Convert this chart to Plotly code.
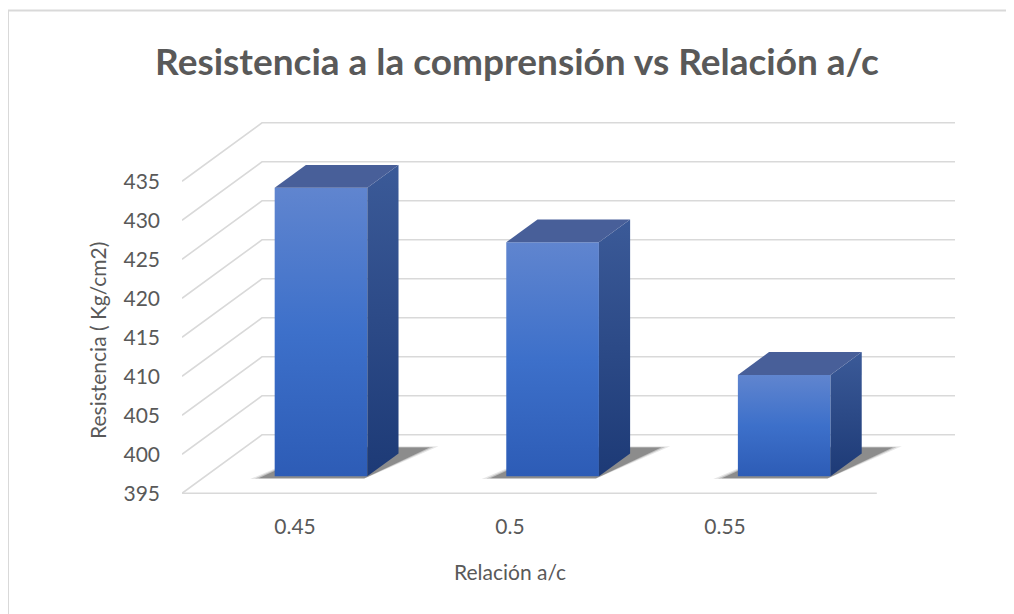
import plotly.graph_objects as go

# Data
categories = ["0.45", "0.5", "0.55"]
resistencia = [432, 425, 408]
y_ticks = [395, 400, 405, 410, 415, 420, 425, 430, 435]

title_text = "Resistencia a la comprensión vs Relación a/c"
x_title = "Relación a/c"
y_title = "Resistencia ( Kg/cm2)"

# page body has an 8px margin, so work in figure pixels = page pixels - 8
OFF = 8
W, H = 1014 - OFF, 614 - OFF

# Geometry of the fake 3D box (pixels -> data units)
L_PX, R_PX, T_PX, B_PX = 182 - OFF, 955 - OFF, 120 - OFF, 500 - OFF
FLOOR_PX = 493.3 - OFF  # front floor line (value 395)
PX_X = 231.6  # px per category
PX_Y = 7.8  # px per value unit
DEPTH_PX = (80, -58.5)
DX = DEPTH_PX[0] / PX_X
DY = -DEPTH_PX[1] / PX_Y
BASE = y_ticks[0]
F1, F2 = 0.29, 0.68  # bar front/back planes inside depth
HALF_W = 0.2

y_range = [BASE - (B_PX - FLOOR_PX) / PX_Y, BASE + (FLOOR_PX - T_PX) / PX_Y]

GRID = "#d9d9d9"
TEXT = "#595959"
FONT = "Lato"


def P(x, d, v):
    """Point at category x, depth fraction d, value v"""
    return x + d * DX, v + d * DY


def poly(pts):
    xs = [p[0] for p in pts] + [pts[0][0]]
    ys = [p[1] for p in pts] + [pts[0][1]]
    return xs, ys


fig = go.Figure()

# Gridlines: side wall diagonals + back wall lines
gx, gy = [], []
n = len(categories)
for v in y_ticks:
    for p in [P(-0.5, 0, v), P(-0.5, 1, v), P(n - 0.5, 1, v)]:
        gx.append(p[0])
        gy.append(p[1])
    gx.append(None)
    gy.append(None)
gx += [-0.5, n - 0.5]
gy += [BASE, BASE]
fig.add_trace(
    go.Scatter(
        x=gx, y=gy, mode="lines", line=dict(color=GRID, width=1.6),
        hoverinfo="skip", showlegend=False,
    )
)

# Bars
for i, v in enumerate(resistencia):
    left, right = i - HALF_W, i + HALF_W

    # soft shadow on the floor
    for grow, op in [(0.04, 0.1), (0.022, 0.18), (0.008, 0.3)]:
        sx, sy = poly([
            P(left - 0.05 - grow, F1 - 0.03 - grow * 0.4, BASE),
            P(right, F1 - 0.03 - grow * 0.4, BASE),
            P(right + 0.09 + grow, F2 + 0.1 + grow * 0.6, BASE),
            P(left + 0.05, F2 + 0.1 + grow * 0.6, BASE),
        ])
        fig.add_trace(
            go.Scatter(
                x=sx, y=sy, fill="toself", mode="lines",
                fillcolor=f"rgba(20,20,20,{op})", line=dict(width=0),
                hoverinfo="skip", showlegend=False,
            )
        )

    bot = P(left, F1, BASE)[1]
    top = P(left, F1, v)[1]

    # front face
    fx, fy = poly([P(left, F1, BASE), P(right, F1, BASE), P(right, F1, v), P(left, F1, v)])
    fig.add_trace(
        go.Scatter(
            x=fx, y=fy, fill="toself", mode="lines", line=dict(width=0),
            fillgradient=dict(
                type="vertical", start=bot, stop=top,
                colorscale=[[0, "#2d5cb6"], [0.5, "#3d70ca"], [1, "#6085cf"]],
            ),
            name=categories[i], hovertemplate=f"{categories[i]}: {v}<extra></extra>",
            showlegend=False,
        )
    )

    # side face
    sx, sy = poly([P(right, F1, BASE), P(right, F2, BASE), P(right, F2, v), P(right, F1, v)])
    fig.add_trace(
        go.Scatter(
            x=sx, y=sy, fill="toself", mode="lines", line=dict(width=0),
            fillgradient=dict(
                type="vertical", start=bot, stop=P(right, F2, v)[1],
                colorscale=[[0, "#1d3a76"], [1, "#3b5a98"]],
            ),
            hoverinfo="skip", showlegend=False,
        )
    )

    # top face
    tx, ty = poly([P(left, F1, v), P(right, F1, v), P(right, F2, v), P(left, F2, v)])
    fig.add_trace(
        go.Scatter(
            x=tx, y=ty, fill="toself", mode="lines", line=dict(width=0),
            fillcolor="#485f99", hoverinfo="skip", showlegend=False,
        )
    )

# invisible trace on the label axis so it is drawn
fig.add_trace(
    go.Scatter(x=[0], y=[BASE], xaxis="x2", mode="markers",
               marker=dict(opacity=0), hoverinfo="skip", showlegend=False)
)

plot_w = R_PX - L_PX
plot_h = B_PX - T_PX
LBL0, LBL_STEP = 295 - OFF, 215  # category label placement on the front edge

fig.update_layout(
    width=W, height=H,
    margin=dict(l=L_PX, r=W - R_PX, t=T_PX, b=H - B_PX),
    paper_bgcolor="white", plot_bgcolor="white",
    font=dict(family=FONT, color=TEXT),
    title=dict(
        text=f"<b>{title_text}</b>", x=(517 - OFF) / W, xref="container", xanchor="center",
        y=1 - (62 - OFF) / H, yref="container", yanchor="middle",
        font=dict(size=37, color=TEXT, family=FONT),
    ),
    xaxis=dict(range=[-0.5, -0.5 + plot_w / PX_X], visible=False, fixedrange=True),
    xaxis2=dict(
        overlaying="x", side="bottom", anchor="y",
        range=[(L_PX - LBL0) / LBL_STEP, (R_PX - LBL0) / LBL_STEP],
        tickvals=list(range(n)), ticktext=categories,
        showgrid=False, zeroline=False, showline=False, ticks="",
        ticklabelstandoff=12, tickfont=dict(size=21, color=TEXT),
    ),
    yaxis=dict(
        range=y_range, tickvals=y_ticks, showgrid=False, zeroline=False,
        showline=False, ticks="", ticklabelstandoff=21,
        tickfont=dict(size=21, color=TEXT),
    ),
    showlegend=False,
    annotations=[
        dict(
            text=x_title, xref="paper", yref="paper", xanchor="center", yanchor="middle",
            x=(510 - OFF - L_PX) / plot_w, y=(B_PX - (571 - OFF)) / plot_h,
            showarrow=False, font=dict(size=21, color=TEXT),
        ),
        dict(
            text=y_title, xref="paper", yref="paper", textangle=-90,
            xanchor="center", yanchor="middle",
            x=(97 - OFF - L_PX) / plot_w, y=(B_PX - (341 - OFF)) / plot_h,
            showarrow=False, font=dict(size=21, color=TEXT),
        ),
    ],
    shapes=[
        dict(
            type="rect", xref="paper", yref="paper",
            x0=(8 - OFF - L_PX) / plot_w, x1=(1030 - L_PX) / plot_w,
            y0=(B_PX - 640) / plot_h, y1=(B_PX - (10.5 - OFF)) / plot_h,
            line=dict(color=GRID, width=2), layer="below",
        )
    ],
)

fig.write_html("out.html")
